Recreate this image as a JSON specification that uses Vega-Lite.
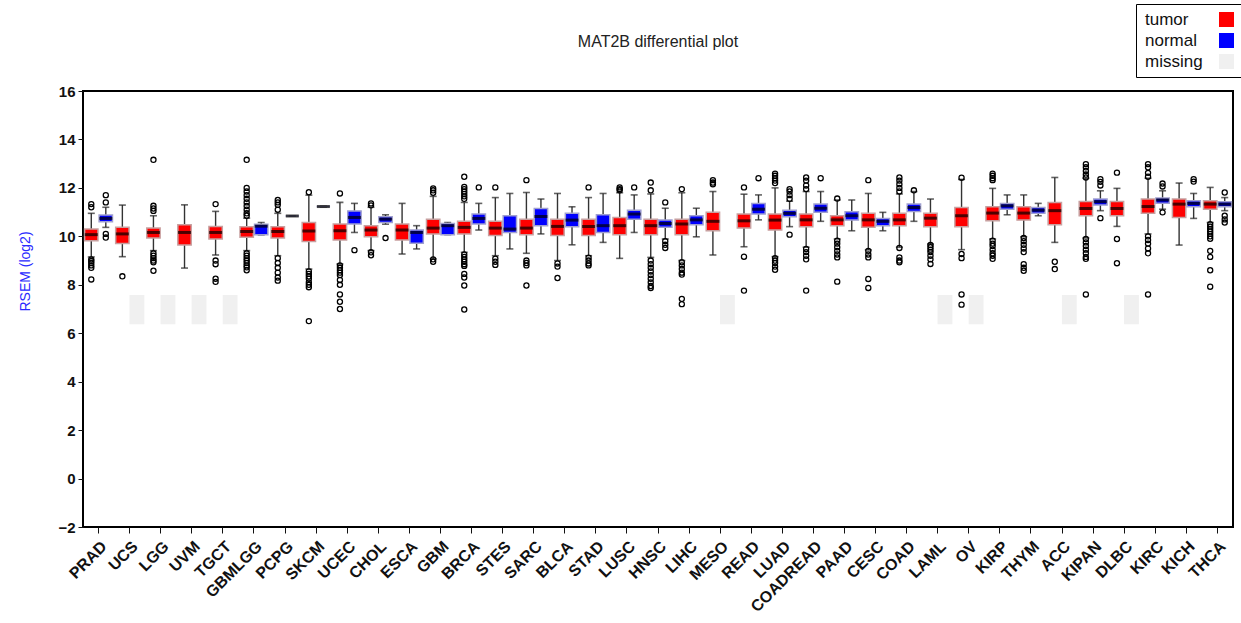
{
  "$schema": "https://vega.github.io/schema/vega-lite/v6.json",
  "width": 1150,
  "height": 436,
  "autosize": {"type": "none"},
  "padding": {"left": 83, "top": 91, "right": 8, "bottom": 96},
  "title": {"text": "MAT2B differential plot", "font": "Liberation Sans", "fontSize": 16, "fontWeight": "normal", "color": "#222222", "offset": -46, "anchor": "middle"},
  "config": {
    "view": {"stroke": "#000000", "strokeWidth": 2},
    "axis": {"labelFont": "Liberation Sans", "labelFontWeight": "bold", "labelFontSize": 14, "labelColor": "#111111", "tickColor": "#111111", "domain": false, "grid": false}
  },
  "datasets": {
    "boxes": [
      {"cancer": "PRAD", "pos": "tumor", "type": "tumor", "lo": 9.15, "q1": 9.82, "med": 10.07, "q3": 10.3, "hi": 10.95},
      {"cancer": "PRAD", "pos": "normal", "type": "normal", "lo": 10.37, "q1": 10.6, "med": 10.74, "q3": 10.88, "hi": 11.2},
      {"cancer": "UCS", "pos": "tumor", "type": "tumor", "lo": 9.16, "q1": 9.7, "med": 10.1, "q3": 10.37, "hi": 11.29},
      {"cancer": "UCS", "pos": "normal", "type": "missing", "q1": 6.4, "q3": 7.55},
      {"cancer": "LGG", "pos": "tumor", "type": "tumor", "lo": 9.41, "q1": 9.93, "med": 10.16, "q3": 10.34, "hi": 10.85},
      {"cancer": "LGG", "pos": "normal", "type": "missing", "q1": 6.4, "q3": 7.55},
      {"cancer": "UVM", "pos": "tumor", "type": "tumor", "lo": 8.69, "q1": 9.64, "med": 10.16, "q3": 10.48, "hi": 11.3},
      {"cancer": "UVM", "pos": "normal", "type": "missing", "q1": 6.4, "q3": 7.55},
      {"cancer": "TGCT", "pos": "tumor", "type": "tumor", "lo": 9.23, "q1": 9.89, "med": 10.16, "q3": 10.41, "hi": 11.03},
      {"cancer": "TGCT", "pos": "normal", "type": "missing", "q1": 6.4, "q3": 7.55},
      {"cancer": "GBMLGG", "pos": "tumor", "type": "tumor", "lo": 9.41, "q1": 9.96, "med": 10.2, "q3": 10.4, "hi": 10.75},
      {"cancer": "GBMLGG", "pos": "normal", "type": "normal", "lo": 10.06, "q1": 10.07, "med": 10.42, "q3": 10.5, "hi": 10.57},
      {"cancer": "PCPG", "pos": "tumor", "type": "tumor", "lo": 9.2, "q1": 9.93, "med": 10.2, "q3": 10.4, "hi": 10.95},
      {"cancer": "PCPG", "pos": "normal", "type": "normal", "lo": 10.84, "q1": 10.84, "med": 10.84, "q3": 10.84, "hi": 10.84},
      {"cancer": "SKCM", "pos": "tumor", "type": "tumor", "lo": 8.65, "q1": 9.79, "med": 10.22, "q3": 10.57, "hi": 11.7},
      {"cancer": "SKCM", "pos": "normal", "type": "normal", "lo": 11.23, "q1": 11.23, "med": 11.23, "q3": 11.23, "hi": 11.23},
      {"cancer": "UCEC", "pos": "tumor", "type": "tumor", "lo": 8.86, "q1": 9.85, "med": 10.23, "q3": 10.51, "hi": 11.4},
      {"cancer": "UCEC", "pos": "normal", "type": "normal", "lo": 10.16, "q1": 10.51, "med": 10.78, "q3": 11.05, "hi": 11.36},
      {"cancer": "CHOL", "pos": "tumor", "type": "tumor", "lo": 9.41, "q1": 9.98, "med": 10.26, "q3": 10.44, "hi": 11.2},
      {"cancer": "CHOL", "pos": "normal", "type": "normal", "lo": 10.5, "q1": 10.57, "med": 10.71, "q3": 10.81, "hi": 10.89},
      {"cancer": "ESCA", "pos": "tumor", "type": "tumor", "lo": 9.27, "q1": 9.85, "med": 10.26, "q3": 10.51, "hi": 11.36},
      {"cancer": "ESCA", "pos": "normal", "type": "normal", "lo": 9.48, "q1": 9.71, "med": 10.16, "q3": 10.26, "hi": 10.44},
      {"cancer": "GBM", "pos": "tumor", "type": "tumor", "lo": 9.07, "q1": 10.1, "med": 10.34, "q3": 10.71, "hi": 11.65},
      {"cancer": "GBM", "pos": "normal", "type": "normal", "lo": 10.07, "q1": 10.07, "med": 10.44, "q3": 10.53, "hi": 10.57},
      {"cancer": "BRCA", "pos": "tumor", "type": "tumor", "lo": 9.34, "q1": 10.1, "med": 10.37, "q3": 10.62, "hi": 11.4},
      {"cancer": "BRCA", "pos": "normal", "type": "normal", "lo": 10.26, "q1": 10.51, "med": 10.74, "q3": 10.92, "hi": 11.36},
      {"cancer": "STES", "pos": "tumor", "type": "tumor", "lo": 9.2, "q1": 10.03, "med": 10.34, "q3": 10.62, "hi": 11.6},
      {"cancer": "STES", "pos": "normal", "type": "normal", "lo": 9.48, "q1": 10.16, "med": 10.3, "q3": 10.85, "hi": 11.77},
      {"cancer": "SARC", "pos": "tumor", "type": "tumor", "lo": 9.3, "q1": 10.07, "med": 10.34, "q3": 10.71, "hi": 11.81},
      {"cancer": "SARC", "pos": "normal", "type": "normal", "lo": 10.1, "q1": 10.44, "med": 10.82, "q3": 11.15, "hi": 11.54},
      {"cancer": "BLCA", "pos": "tumor", "type": "tumor", "lo": 9.0, "q1": 10.03, "med": 10.41, "q3": 10.71, "hi": 11.77},
      {"cancer": "BLCA", "pos": "normal", "type": "normal", "lo": 9.65, "q1": 10.4, "med": 10.67, "q3": 10.95, "hi": 11.22},
      {"cancer": "STAD", "pos": "tumor", "type": "tumor", "lo": 9.2, "q1": 10.03, "med": 10.41, "q3": 10.71, "hi": 11.6},
      {"cancer": "STAD", "pos": "normal", "type": "normal", "lo": 9.75, "q1": 10.16, "med": 10.44, "q3": 10.89, "hi": 11.77},
      {"cancer": "LUSC", "pos": "tumor", "type": "tumor", "lo": 9.09, "q1": 10.07, "med": 10.44, "q3": 10.78, "hi": 11.8},
      {"cancer": "LUSC", "pos": "normal", "type": "normal", "lo": 10.16, "q1": 10.71, "med": 10.92, "q3": 11.08, "hi": 11.71},
      {"cancer": "HNSC", "pos": "tumor", "type": "tumor", "lo": 9.13, "q1": 10.07, "med": 10.44, "q3": 10.71, "hi": 11.75},
      {"cancer": "HNSC", "pos": "normal", "type": "normal", "lo": 9.89, "q1": 10.37, "med": 10.53, "q3": 10.67, "hi": 11.16},
      {"cancer": "LIHC", "pos": "tumor", "type": "tumor", "lo": 9.0, "q1": 10.07, "med": 10.51, "q3": 10.71, "hi": 11.8},
      {"cancer": "LIHC", "pos": "normal", "type": "normal", "lo": 9.98, "q1": 10.48, "med": 10.68, "q3": 10.85, "hi": 11.16},
      {"cancer": "MESO", "pos": "tumor", "type": "tumor", "lo": 9.23, "q1": 10.23, "med": 10.62, "q3": 10.99, "hi": 11.85},
      {"cancer": "MESO", "pos": "normal", "type": "missing", "q1": 6.4, "q3": 7.55},
      {"cancer": "READ", "pos": "tumor", "type": "tumor", "lo": 9.57, "q1": 10.34, "med": 10.64, "q3": 10.92, "hi": 11.74},
      {"cancer": "READ", "pos": "normal", "type": "normal", "lo": 10.68, "q1": 10.92, "med": 11.12, "q3": 11.36, "hi": 11.71},
      {"cancer": "LUAD", "pos": "tumor", "type": "tumor", "lo": 9.16, "q1": 10.26, "med": 10.67, "q3": 10.92, "hi": 12.0},
      {"cancer": "LUAD", "pos": "normal", "type": "normal", "lo": 10.4, "q1": 10.81, "med": 10.95, "q3": 11.08, "hi": 11.45},
      {"cancer": "COADREAD", "pos": "tumor", "type": "tumor", "lo": 9.55, "q1": 10.4, "med": 10.68, "q3": 10.92, "hi": 11.85},
      {"cancer": "COADREAD", "pos": "normal", "type": "normal", "lo": 10.62, "q1": 10.99, "med": 11.16, "q3": 11.33, "hi": 11.85},
      {"cancer": "PAAD", "pos": "tumor", "type": "tumor", "lo": 9.89, "q1": 10.44, "med": 10.68, "q3": 10.85, "hi": 11.5},
      {"cancer": "PAAD", "pos": "normal", "type": "normal", "lo": 10.23, "q1": 10.67, "med": 10.85, "q3": 11.01, "hi": 11.5},
      {"cancer": "CESC", "pos": "tumor", "type": "tumor", "lo": 9.44, "q1": 10.37, "med": 10.68, "q3": 10.95, "hi": 11.77},
      {"cancer": "CESC", "pos": "normal", "type": "normal", "lo": 10.23, "q1": 10.44, "med": 10.62, "q3": 10.74, "hi": 10.99},
      {"cancer": "COAD", "pos": "tumor", "type": "tumor", "lo": 9.55, "q1": 10.44, "med": 10.68, "q3": 10.95, "hi": 11.75},
      {"cancer": "COAD", "pos": "normal", "type": "normal", "lo": 10.62, "q1": 11.03, "med": 11.19, "q3": 11.33, "hi": 11.85},
      {"cancer": "LAML", "pos": "tumor", "type": "tumor", "lo": 9.68, "q1": 10.4, "med": 10.75, "q3": 10.95, "hi": 11.54},
      {"cancer": "LAML", "pos": "normal", "type": "missing", "q1": 6.4, "q3": 7.55},
      {"cancer": "OV", "pos": "tumor", "type": "tumor", "lo": 9.45, "q1": 10.4, "med": 10.85, "q3": 11.19, "hi": 12.35},
      {"cancer": "OV", "pos": "normal", "type": "missing", "q1": 6.4, "q3": 7.55},
      {"cancer": "KIRP", "pos": "tumor", "type": "tumor", "lo": 9.89, "q1": 10.64, "med": 10.96, "q3": 11.22, "hi": 11.98},
      {"cancer": "KIRP", "pos": "normal", "type": "normal", "lo": 10.89, "q1": 11.12, "med": 11.26, "q3": 11.36, "hi": 11.71},
      {"cancer": "THYM", "pos": "tumor", "type": "tumor", "lo": 9.98, "q1": 10.67, "med": 10.96, "q3": 11.22, "hi": 11.71},
      {"cancer": "THYM", "pos": "normal", "type": "normal", "lo": 10.85, "q1": 10.95, "med": 11.08, "q3": 11.19, "hi": 11.36},
      {"cancer": "ACC", "pos": "tumor", "type": "tumor", "lo": 9.75, "q1": 10.48, "med": 11.06, "q3": 11.4, "hi": 12.43},
      {"cancer": "ACC", "pos": "normal", "type": "missing", "q1": 6.4, "q3": 7.55},
      {"cancer": "KIPAN", "pos": "tumor", "type": "tumor", "lo": 9.93, "q1": 10.85, "med": 11.15, "q3": 11.44, "hi": 12.4},
      {"cancer": "KIPAN", "pos": "normal", "type": "normal", "lo": 11.06, "q1": 11.29, "med": 11.43, "q3": 11.54, "hi": 11.88},
      {"cancer": "DLBC", "pos": "tumor", "type": "tumor", "lo": 10.41, "q1": 10.85, "med": 11.15, "q3": 11.44, "hi": 11.98},
      {"cancer": "DLBC", "pos": "normal", "type": "missing", "q1": 6.4, "q3": 7.55},
      {"cancer": "KIRC", "pos": "tumor", "type": "tumor", "lo": 10.1, "q1": 10.95, "med": 11.23, "q3": 11.54, "hi": 12.4},
      {"cancer": "KIRC", "pos": "normal", "type": "normal", "lo": 11.12, "q1": 11.37, "med": 11.5, "q3": 11.58, "hi": 11.88},
      {"cancer": "KICH", "pos": "tumor", "type": "tumor", "lo": 9.64, "q1": 10.78, "med": 11.33, "q3": 11.54, "hi": 12.2},
      {"cancer": "KICH", "pos": "normal", "type": "normal", "lo": 10.74, "q1": 11.22, "med": 11.36, "q3": 11.47, "hi": 11.77},
      {"cancer": "THCA", "pos": "tumor", "type": "tumor", "lo": 10.57, "q1": 11.12, "med": 11.33, "q3": 11.47, "hi": 12.02},
      {"cancer": "THCA", "pos": "normal", "type": "normal", "lo": 11.06, "q1": 11.22, "med": 11.33, "q3": 11.43, "hi": 11.6}
    ],
    "outliers": [
      {"cancer": "PRAD", "pos": "tumor", "v": 11.33}, {"cancer": "PRAD", "pos": "tumor", "v": 11.2}, {"cancer": "PRAD", "pos": "tumor", "v": 9.05}, {"cancer": "PRAD", "pos": "tumor", "v": 8.98}, {"cancer": "PRAD", "pos": "tumor", "v": 8.9}, {"cancer": "PRAD", "pos": "tumor", "v": 8.8}, {"cancer": "PRAD", "pos": "tumor", "v": 8.7}, {"cancer": "PRAD", "pos": "tumor", "v": 8.22},
      {"cancer": "PRAD", "pos": "normal", "v": 11.7}, {"cancer": "PRAD", "pos": "normal", "v": 11.4}, {"cancer": "PRAD", "pos": "normal", "v": 10.1}, {"cancer": "PRAD", "pos": "normal", "v": 9.95},
      {"cancer": "UCS", "pos": "tumor", "v": 8.35},
      {"cancer": "LGG", "pos": "tumor", "v": 13.16}, {"cancer": "LGG", "pos": "tumor", "v": 11.26}, {"cancer": "LGG", "pos": "tumor", "v": 11.15}, {"cancer": "LGG", "pos": "tumor", "v": 11.05}, {"cancer": "LGG", "pos": "tumor", "v": 9.3}, {"cancer": "LGG", "pos": "tumor", "v": 9.2}, {"cancer": "LGG", "pos": "tumor", "v": 9.1}, {"cancer": "LGG", "pos": "tumor", "v": 9.0}, {"cancer": "LGG", "pos": "tumor", "v": 8.93}, {"cancer": "LGG", "pos": "tumor", "v": 8.58},
      {"cancer": "TGCT", "pos": "tumor", "v": 11.33}, {"cancer": "TGCT", "pos": "tumor", "v": 9.0}, {"cancer": "TGCT", "pos": "tumor", "v": 8.85}, {"cancer": "TGCT", "pos": "tumor", "v": 8.25}, {"cancer": "TGCT", "pos": "tumor", "v": 8.12},
      {"cancer": "GBMLGG", "pos": "tumor", "v": 13.16}, {"cancer": "GBMLGG", "pos": "tumor", "v": 12.0}, {"cancer": "GBMLGG", "pos": "tumor", "v": 11.85}, {"cancer": "GBMLGG", "pos": "tumor", "v": 11.7}, {"cancer": "GBMLGG", "pos": "tumor", "v": 11.55}, {"cancer": "GBMLGG", "pos": "tumor", "v": 11.4}, {"cancer": "GBMLGG", "pos": "tumor", "v": 11.25}, {"cancer": "GBMLGG", "pos": "tumor", "v": 11.1}, {"cancer": "GBMLGG", "pos": "tumor", "v": 10.95}, {"cancer": "GBMLGG", "pos": "tumor", "v": 10.85}, {"cancer": "GBMLGG", "pos": "tumor", "v": 9.3}, {"cancer": "GBMLGG", "pos": "tumor", "v": 9.2}, {"cancer": "GBMLGG", "pos": "tumor", "v": 9.1}, {"cancer": "GBMLGG", "pos": "tumor", "v": 9.0}, {"cancer": "GBMLGG", "pos": "tumor", "v": 8.9}, {"cancer": "GBMLGG", "pos": "tumor", "v": 8.8}, {"cancer": "GBMLGG", "pos": "tumor", "v": 8.72}, {"cancer": "GBMLGG", "pos": "tumor", "v": 8.6},
      {"cancer": "PCPG", "pos": "tumor", "v": 11.5}, {"cancer": "PCPG", "pos": "tumor", "v": 11.4}, {"cancer": "PCPG", "pos": "tumor", "v": 11.3}, {"cancer": "PCPG", "pos": "tumor", "v": 11.1}, {"cancer": "PCPG", "pos": "tumor", "v": 9.1}, {"cancer": "PCPG", "pos": "tumor", "v": 8.9}, {"cancer": "PCPG", "pos": "tumor", "v": 8.7}, {"cancer": "PCPG", "pos": "tumor", "v": 8.5}, {"cancer": "PCPG", "pos": "tumor", "v": 8.3}, {"cancer": "PCPG", "pos": "tumor", "v": 8.17},
      {"cancer": "SKCM", "pos": "tumor", "v": 11.82}, {"cancer": "SKCM", "pos": "tumor", "v": 8.55}, {"cancer": "SKCM", "pos": "tumor", "v": 8.45}, {"cancer": "SKCM", "pos": "tumor", "v": 8.35}, {"cancer": "SKCM", "pos": "tumor", "v": 8.25}, {"cancer": "SKCM", "pos": "tumor", "v": 8.1}, {"cancer": "SKCM", "pos": "tumor", "v": 8.0}, {"cancer": "SKCM", "pos": "tumor", "v": 7.9}, {"cancer": "SKCM", "pos": "tumor", "v": 6.5},
      {"cancer": "UCEC", "pos": "tumor", "v": 11.77}, {"cancer": "UCEC", "pos": "tumor", "v": 8.8}, {"cancer": "UCEC", "pos": "tumor", "v": 8.7}, {"cancer": "UCEC", "pos": "tumor", "v": 8.6}, {"cancer": "UCEC", "pos": "tumor", "v": 8.5}, {"cancer": "UCEC", "pos": "tumor", "v": 8.4}, {"cancer": "UCEC", "pos": "tumor", "v": 8.2}, {"cancer": "UCEC", "pos": "tumor", "v": 8.0}, {"cancer": "UCEC", "pos": "tumor", "v": 7.6}, {"cancer": "UCEC", "pos": "tumor", "v": 7.3}, {"cancer": "UCEC", "pos": "tumor", "v": 7.0},
      {"cancer": "UCEC", "pos": "normal", "v": 9.43},
      {"cancer": "CHOL", "pos": "tumor", "v": 11.36}, {"cancer": "CHOL", "pos": "tumor", "v": 11.28}, {"cancer": "CHOL", "pos": "tumor", "v": 9.34}, {"cancer": "CHOL", "pos": "tumor", "v": 9.22},
      {"cancer": "CHOL", "pos": "normal", "v": 9.93},
      {"cancer": "GBM", "pos": "tumor", "v": 11.98}, {"cancer": "GBM", "pos": "tumor", "v": 11.9}, {"cancer": "GBM", "pos": "tumor", "v": 11.8}, {"cancer": "GBM", "pos": "tumor", "v": 9.05}, {"cancer": "GBM", "pos": "tumor", "v": 8.95},
      {"cancer": "BRCA", "pos": "tumor", "v": 12.46}, {"cancer": "BRCA", "pos": "tumor", "v": 12.04}, {"cancer": "BRCA", "pos": "tumor", "v": 11.95}, {"cancer": "BRCA", "pos": "tumor", "v": 11.85}, {"cancer": "BRCA", "pos": "tumor", "v": 11.75}, {"cancer": "BRCA", "pos": "tumor", "v": 11.65}, {"cancer": "BRCA", "pos": "tumor", "v": 11.55}, {"cancer": "BRCA", "pos": "tumor", "v": 9.25}, {"cancer": "BRCA", "pos": "tumor", "v": 9.15}, {"cancer": "BRCA", "pos": "tumor", "v": 9.05}, {"cancer": "BRCA", "pos": "tumor", "v": 8.95}, {"cancer": "BRCA", "pos": "tumor", "v": 8.85}, {"cancer": "BRCA", "pos": "tumor", "v": 8.78}, {"cancer": "BRCA", "pos": "tumor", "v": 8.45}, {"cancer": "BRCA", "pos": "tumor", "v": 8.3}, {"cancer": "BRCA", "pos": "tumor", "v": 7.97}, {"cancer": "BRCA", "pos": "tumor", "v": 6.98},
      {"cancer": "BRCA", "pos": "normal", "v": 12.02},
      {"cancer": "STES", "pos": "tumor", "v": 12.02}, {"cancer": "STES", "pos": "tumor", "v": 9.08}, {"cancer": "STES", "pos": "tumor", "v": 8.95}, {"cancer": "STES", "pos": "tumor", "v": 8.82},
      {"cancer": "SARC", "pos": "tumor", "v": 12.32}, {"cancer": "SARC", "pos": "tumor", "v": 9.0}, {"cancer": "SARC", "pos": "tumor", "v": 8.9}, {"cancer": "SARC", "pos": "tumor", "v": 8.8}, {"cancer": "SARC", "pos": "tumor", "v": 7.97},
      {"cancer": "BLCA", "pos": "tumor", "v": 8.88}, {"cancer": "BLCA", "pos": "tumor", "v": 8.75}, {"cancer": "BLCA", "pos": "tumor", "v": 8.28},
      {"cancer": "STAD", "pos": "tumor", "v": 12.02}, {"cancer": "STAD", "pos": "tumor", "v": 9.12}, {"cancer": "STAD", "pos": "tumor", "v": 9.0}, {"cancer": "STAD", "pos": "tumor", "v": 8.88}, {"cancer": "STAD", "pos": "tumor", "v": 8.8},
      {"cancer": "LUSC", "pos": "tumor", "v": 12.02}, {"cancer": "LUSC", "pos": "tumor", "v": 11.95}, {"cancer": "LUSC", "pos": "tumor", "v": 11.9},
      {"cancer": "LUSC", "pos": "normal", "v": 12.02},
      {"cancer": "HNSC", "pos": "tumor", "v": 12.22}, {"cancer": "HNSC", "pos": "tumor", "v": 11.9}, {"cancer": "HNSC", "pos": "tumor", "v": 9.0}, {"cancer": "HNSC", "pos": "tumor", "v": 8.85}, {"cancer": "HNSC", "pos": "tumor", "v": 8.7}, {"cancer": "HNSC", "pos": "tumor", "v": 8.55}, {"cancer": "HNSC", "pos": "tumor", "v": 8.4}, {"cancer": "HNSC", "pos": "tumor", "v": 8.25}, {"cancer": "HNSC", "pos": "tumor", "v": 8.1}, {"cancer": "HNSC", "pos": "tumor", "v": 7.95}, {"cancer": "HNSC", "pos": "tumor", "v": 7.87},
      {"cancer": "HNSC", "pos": "normal", "v": 11.4}, {"cancer": "HNSC", "pos": "normal", "v": 9.8}, {"cancer": "HNSC", "pos": "normal", "v": 9.65}, {"cancer": "HNSC", "pos": "normal", "v": 9.52},
      {"cancer": "LIHC", "pos": "tumor", "v": 11.95}, {"cancer": "LIHC", "pos": "tumor", "v": 8.93}, {"cancer": "LIHC", "pos": "tumor", "v": 8.8}, {"cancer": "LIHC", "pos": "tumor", "v": 8.65}, {"cancer": "LIHC", "pos": "tumor", "v": 8.5}, {"cancer": "LIHC", "pos": "tumor", "v": 8.42}, {"cancer": "LIHC", "pos": "tumor", "v": 7.42}, {"cancer": "LIHC", "pos": "tumor", "v": 7.2},
      {"cancer": "MESO", "pos": "tumor", "v": 12.32}, {"cancer": "MESO", "pos": "tumor", "v": 12.22}, {"cancer": "MESO", "pos": "tumor", "v": 12.15},
      {"cancer": "READ", "pos": "tumor", "v": 12.02}, {"cancer": "READ", "pos": "tumor", "v": 9.16}, {"cancer": "READ", "pos": "tumor", "v": 7.76},
      {"cancer": "READ", "pos": "normal", "v": 12.4},
      {"cancer": "LUAD", "pos": "tumor", "v": 12.59}, {"cancer": "LUAD", "pos": "tumor", "v": 12.5}, {"cancer": "LUAD", "pos": "tumor", "v": 12.4}, {"cancer": "LUAD", "pos": "tumor", "v": 12.3}, {"cancer": "LUAD", "pos": "tumor", "v": 12.2}, {"cancer": "LUAD", "pos": "tumor", "v": 9.1}, {"cancer": "LUAD", "pos": "tumor", "v": 9.0}, {"cancer": "LUAD", "pos": "tumor", "v": 8.9}, {"cancer": "LUAD", "pos": "tumor", "v": 8.75}, {"cancer": "LUAD", "pos": "tumor", "v": 8.62},
      {"cancer": "LUAD", "pos": "normal", "v": 11.95}, {"cancer": "LUAD", "pos": "normal", "v": 11.85}, {"cancer": "LUAD", "pos": "normal", "v": 11.7}, {"cancer": "LUAD", "pos": "normal", "v": 11.55}, {"cancer": "LUAD", "pos": "normal", "v": 10.07},
      {"cancer": "COADREAD", "pos": "tumor", "v": 12.43}, {"cancer": "COADREAD", "pos": "tumor", "v": 12.3}, {"cancer": "COADREAD", "pos": "tumor", "v": 12.1}, {"cancer": "COADREAD", "pos": "tumor", "v": 11.95}, {"cancer": "COADREAD", "pos": "tumor", "v": 9.48}, {"cancer": "COADREAD", "pos": "tumor", "v": 9.35}, {"cancer": "COADREAD", "pos": "tumor", "v": 9.2}, {"cancer": "COADREAD", "pos": "tumor", "v": 9.05}, {"cancer": "COADREAD", "pos": "tumor", "v": 7.76},
      {"cancer": "COADREAD", "pos": "normal", "v": 12.4},
      {"cancer": "PAAD", "pos": "tumor", "v": 11.56}, {"cancer": "PAAD", "pos": "tumor", "v": 9.82}, {"cancer": "PAAD", "pos": "tumor", "v": 9.7}, {"cancer": "PAAD", "pos": "tumor", "v": 9.55}, {"cancer": "PAAD", "pos": "tumor", "v": 9.4}, {"cancer": "PAAD", "pos": "tumor", "v": 9.25}, {"cancer": "PAAD", "pos": "tumor", "v": 9.13}, {"cancer": "PAAD", "pos": "tumor", "v": 8.13},
      {"cancer": "CESC", "pos": "tumor", "v": 12.32}, {"cancer": "CESC", "pos": "tumor", "v": 9.4}, {"cancer": "CESC", "pos": "tumor", "v": 9.25}, {"cancer": "CESC", "pos": "tumor", "v": 9.13}, {"cancer": "CESC", "pos": "tumor", "v": 8.24}, {"cancer": "CESC", "pos": "tumor", "v": 7.87},
      {"cancer": "COAD", "pos": "tumor", "v": 12.43}, {"cancer": "COAD", "pos": "tumor", "v": 12.3}, {"cancer": "COAD", "pos": "tumor", "v": 12.15}, {"cancer": "COAD", "pos": "tumor", "v": 12.0}, {"cancer": "COAD", "pos": "tumor", "v": 11.85}, {"cancer": "COAD", "pos": "tumor", "v": 9.52}, {"cancer": "COAD", "pos": "tumor", "v": 9.13}, {"cancer": "COAD", "pos": "tumor", "v": 9.0}, {"cancer": "COAD", "pos": "tumor", "v": 8.93},
      {"cancer": "COAD", "pos": "normal", "v": 11.9},
      {"cancer": "LAML", "pos": "tumor", "v": 9.64}, {"cancer": "LAML", "pos": "tumor", "v": 9.55}, {"cancer": "LAML", "pos": "tumor", "v": 9.45}, {"cancer": "LAML", "pos": "tumor", "v": 9.35}, {"cancer": "LAML", "pos": "tumor", "v": 9.2}, {"cancer": "LAML", "pos": "tumor", "v": 9.05}, {"cancer": "LAML", "pos": "tumor", "v": 8.86},
      {"cancer": "OV", "pos": "tumor", "v": 12.42}, {"cancer": "OV", "pos": "tumor", "v": 9.27}, {"cancer": "OV", "pos": "tumor", "v": 9.1}, {"cancer": "OV", "pos": "tumor", "v": 7.6}, {"cancer": "OV", "pos": "tumor", "v": 7.18},
      {"cancer": "KIRP", "pos": "tumor", "v": 12.59}, {"cancer": "KIRP", "pos": "tumor", "v": 12.5}, {"cancer": "KIRP", "pos": "tumor", "v": 12.4}, {"cancer": "KIRP", "pos": "tumor", "v": 12.32}, {"cancer": "KIRP", "pos": "tumor", "v": 9.82}, {"cancer": "KIRP", "pos": "tumor", "v": 9.7}, {"cancer": "KIRP", "pos": "tumor", "v": 9.6}, {"cancer": "KIRP", "pos": "tumor", "v": 9.45}, {"cancer": "KIRP", "pos": "tumor", "v": 9.3}, {"cancer": "KIRP", "pos": "tumor", "v": 9.2}, {"cancer": "KIRP", "pos": "tumor", "v": 9.07},
      {"cancer": "THYM", "pos": "tumor", "v": 9.93}, {"cancer": "THYM", "pos": "tumor", "v": 9.8}, {"cancer": "THYM", "pos": "tumor", "v": 9.65}, {"cancer": "THYM", "pos": "tumor", "v": 9.5}, {"cancer": "THYM", "pos": "tumor", "v": 9.35}, {"cancer": "THYM", "pos": "tumor", "v": 8.85}, {"cancer": "THYM", "pos": "tumor", "v": 8.7}, {"cancer": "THYM", "pos": "tumor", "v": 8.58},
      {"cancer": "ACC", "pos": "tumor", "v": 8.95}, {"cancer": "ACC", "pos": "tumor", "v": 8.65},
      {"cancer": "KIPAN", "pos": "tumor", "v": 12.98}, {"cancer": "KIPAN", "pos": "tumor", "v": 12.85}, {"cancer": "KIPAN", "pos": "tumor", "v": 12.7}, {"cancer": "KIPAN", "pos": "tumor", "v": 12.55}, {"cancer": "KIPAN", "pos": "tumor", "v": 12.43}, {"cancer": "KIPAN", "pos": "tumor", "v": 9.89}, {"cancer": "KIPAN", "pos": "tumor", "v": 9.75}, {"cancer": "KIPAN", "pos": "tumor", "v": 9.6}, {"cancer": "KIPAN", "pos": "tumor", "v": 9.45}, {"cancer": "KIPAN", "pos": "tumor", "v": 9.3}, {"cancer": "KIPAN", "pos": "tumor", "v": 9.15}, {"cancer": "KIPAN", "pos": "tumor", "v": 9.07}, {"cancer": "KIPAN", "pos": "tumor", "v": 7.6},
      {"cancer": "KIPAN", "pos": "normal", "v": 12.36}, {"cancer": "KIPAN", "pos": "normal", "v": 12.25}, {"cancer": "KIPAN", "pos": "normal", "v": 12.1}, {"cancer": "KIPAN", "pos": "normal", "v": 10.75},
      {"cancer": "DLBC", "pos": "tumor", "v": 12.63}, {"cancer": "DLBC", "pos": "tumor", "v": 9.89}, {"cancer": "DLBC", "pos": "tumor", "v": 8.89},
      {"cancer": "KIRC", "pos": "tumor", "v": 12.98}, {"cancer": "KIRC", "pos": "tumor", "v": 12.85}, {"cancer": "KIRC", "pos": "tumor", "v": 12.62}, {"cancer": "KIRC", "pos": "tumor", "v": 12.46}, {"cancer": "KIRC", "pos": "tumor", "v": 10.0}, {"cancer": "KIRC", "pos": "tumor", "v": 9.85}, {"cancer": "KIRC", "pos": "tumor", "v": 9.7}, {"cancer": "KIRC", "pos": "tumor", "v": 9.5}, {"cancer": "KIRC", "pos": "tumor", "v": 9.3}, {"cancer": "KIRC", "pos": "tumor", "v": 7.6},
      {"cancer": "KIRC", "pos": "normal", "v": 12.18}, {"cancer": "KIRC", "pos": "normal", "v": 12.06}, {"cancer": "KIRC", "pos": "normal", "v": 10.99},
      {"cancer": "KICH", "pos": "normal", "v": 12.36}, {"cancer": "KICH", "pos": "normal", "v": 12.26},
      {"cancer": "THCA", "pos": "tumor", "v": 10.5}, {"cancer": "THCA", "pos": "tumor", "v": 10.4}, {"cancer": "THCA", "pos": "tumor", "v": 10.3}, {"cancer": "THCA", "pos": "tumor", "v": 10.2}, {"cancer": "THCA", "pos": "tumor", "v": 10.1}, {"cancer": "THCA", "pos": "tumor", "v": 10.0}, {"cancer": "THCA", "pos": "tumor", "v": 9.9}, {"cancer": "THCA", "pos": "tumor", "v": 9.4}, {"cancer": "THCA", "pos": "tumor", "v": 9.15}, {"cancer": "THCA", "pos": "tumor", "v": 8.6}, {"cancer": "THCA", "pos": "tumor", "v": 7.92},
      {"cancer": "THCA", "pos": "normal", "v": 11.81}, {"cancer": "THCA", "pos": "normal", "v": 10.85}, {"cancer": "THCA", "pos": "normal", "v": 10.7}, {"cancer": "THCA", "pos": "normal", "v": 10.57}
    ]
  },
  "encoding": {
    "x": {
      "field": "cancer", "type": "nominal", "title": null,
      "scale": {"domain": ["PRAD","UCS","LGG","UVM","TGCT","GBMLGG","PCPG","SKCM","UCEC","CHOL","ESCA","GBM","BRCA","STES","SARC","BLCA","STAD","LUSC","HNSC","LIHC","MESO","READ","LUAD","COADREAD","PAAD","CESC","COAD","LAML","OV","KIRP","THYM","ACC","KIPAN","DLBC","KIRC","KICH","THCA"], "paddingInner": 0, "paddingOuter": 0},
      "axis": {"labelAngle": -45, "labelAlign": "right", "labelBaseline": "top", "labelPadding": 5, "tickSize": 6, "labelFontSize": 16}
    },
    "xOffset": {"field": "pos", "type": "nominal", "scale": {"domain": ["tumor", "normal"], "paddingInner": 0.08, "paddingOuter": 0.11}}
  },
  "layer": [
    {
      "data": {"name": "boxes"},
      "transform": [{"filter": "datum.type !== 'missing'"}],
      "mark": {"type": "rule", "color": "#333333", "strokeWidth": 1.4},
      "encoding": {
        "y": {"field": "lo", "type": "quantitative", "scale": {"domain": [-2, 16], "nice": false, "zero": false}, "title": "RSEM (log2)",
              "axis": {"values": [-2, 0, 2, 4, 6, 8, 10, 12, 14, 16], "tickSize": 5, "labelPadding": 3, "labelFontSize": 15, "titleColor": "#2a2aff", "titleFont": "Liberation Sans", "titleFontSize": 14, "titleFontWeight": "normal", "titleAngle": -90, "titleX": -58, "titleY": 180, "titleAlign": "center", "titleBaseline": "middle"}},
        "y2": {"field": "hi"}
      }
    },
    {
      "data": {"name": "boxes"},
      "transform": [{"filter": "datum.type !== 'missing'"}],
      "mark": {"type": "tick", "color": "#222222", "size": 7, "thickness": 1.6},
      "encoding": {"y": {"field": "lo", "type": "quantitative", "title": "RSEM (log2)"}}
    },
    {
      "data": {"name": "boxes"},
      "transform": [{"filter": "datum.type !== 'missing'"}],
      "mark": {"type": "tick", "color": "#222222", "size": 7, "thickness": 1.6},
      "encoding": {"y": {"field": "hi", "type": "quantitative", "title": "RSEM (log2)"}}
    },
    {
      "data": {"name": "boxes"},
      "mark": {"type": "bar", "strokeWidth": 1.5},
      "encoding": {
        "y": {"field": "q1", "type": "quantitative", "title": "RSEM (log2)"},
        "y2": {"field": "q3"},
        "color": {
          "field": "type", "type": "nominal",
          "scale": {"domain": ["tumor", "normal", "missing"], "range": ["#ff0000", "#0000ff", "#f0f0f0"]},
          "legend": {"title": null, "orient": "none", "legendX": 1053, "legendY": -87, "symbolType": "square", "symbolSize": 225, "symbolStrokeWidth": 0, "symbolOffset": 75, "labelOffset": -90, "labelFont": "Liberation Sans", "labelFontSize": 17, "labelColor": "#111111", "rowPadding": 3, "padding": 7, "strokeColor": "#000000", "fillColor": "#ffffff"}
        },
        "stroke": {
          "field": "type", "type": "nominal", "legend": null,
          "scale": {"domain": ["tumor", "normal", "missing"], "range": ["#c8a0a0", "#a0a0d0", "#f0f0f0"]}
        }
      }
    },
    {
      "data": {"name": "boxes"},
      "transform": [{"filter": "datum.type !== 'missing'"}],
      "mark": {"type": "tick", "color": "#000000", "size": 13, "thickness": 3},
      "encoding": {"y": {"field": "med", "type": "quantitative", "title": "RSEM (log2)"}}
    },
    {
      "data": {"name": "outliers"},
      "mark": {"type": "point", "shape": "circle", "filled": false, "stroke": "#000000", "strokeWidth": 1.3, "size": 26, "opacity": 1},
      "encoding": {"y": {"field": "v", "type": "quantitative", "title": "RSEM (log2)"}}
    }
  ]
}
